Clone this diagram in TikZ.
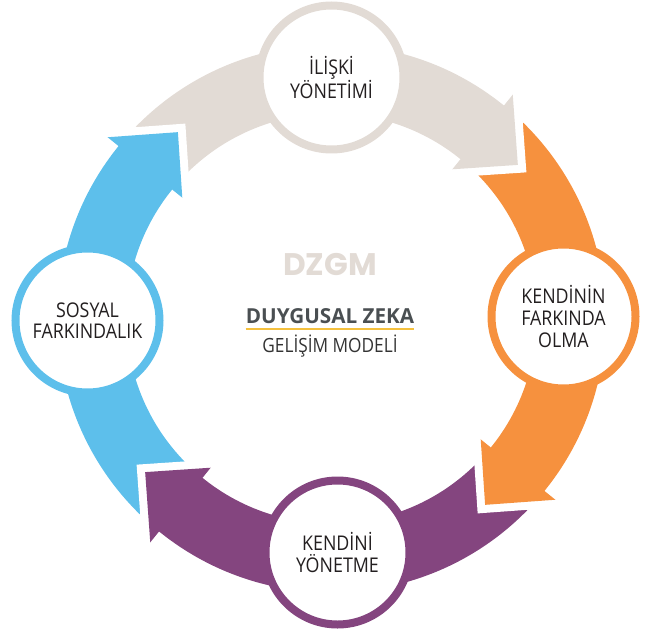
\documentclass[tikz,border=0pt]{standalone}
\usepackage{fontspec}
\setmainfont{Open Sans}
\newfontfamily\nodefont[FakeStretch=0.88]{Open Sans}
\newfontfamily\logofont{Poppins}
\usetikzlibrary{positioning}
\definecolor{dzgray}{HTML}{E2DBD5}
\definecolor{dzorange}{HTML}{F6913E}
\definecolor{dzpurple}{HTML}{84457F}
\definecolor{dzblue}{HTML}{5DBFEB}
\definecolor{dztext}{HTML}{231F20}
\definecolor{dztitle}{HTML}{4A4F52}
\definecolor{dzsub}{HTML}{333333}
\definecolor{dzyellow}{HTML}{F4C03E}

\begin{document}
\begin{tikzpicture}[
    x=0.75pt, y=0.75pt,
    stage/.style={circle, draw=#1, line width=6pt, fill=white, minimum size=108pt, inner sep=0pt, align=center, text=dztext, font=\nodefont\fontsize{15.2}{16.2}\selectfont},
    headgap/.style={white, line width=12pt, miter limit=6},
    underline/.style={dzyellow, line width=1.5pt}
]
\useasboundingbox (-331.5,-316.5) rectangle (323.5,318.5);

% Ring bands (each one starts and stops under an arrow head)
\foreach \col/\tail/\stop in {dzgray/139/49, dzorange/49/-41, dzpurple/-41/-131, dzblue/-131/-221}
    \fill[\col] (\tail:274) arc[start angle=\tail, end angle=\stop, radius=274] -- (\stop:205) arc[start angle=\stop, end angle=\tail, radius=205] -- cycle;

% Arrow heads
\foreach \col/\base/\apex in {dzgray/51/39.5, dzorange/-39/-50.5, dzpurple/-129/-140.5, dzblue/141/129.5} {
    \draw[headgap] (\base:192) -- (\apex:241.5) -- (\base:288);
    \fill[\col] (\base:192) -- (\apex:241.5) -- (\base:288) -- cycle;
}

% Nodes
\node[stage=dzgray] (relation) at (0,241) {İLİŞKİ\\YÖNETİMİ};
\node[stage=dzorange] (awareness) at (232,2) {KENDİNİN\\FARKINDA\\OLMA};
\node[stage=dzpurple] (selfmgmt) at (6,-234) {KENDİNİ\\YÖNETME};
\node[stage=dzblue] (social) at (-244,-2) {SOSYAL\\FARKINDALIK};

% Centre title
\node[anchor=base, text=dzgray, font=\logofont\bfseries\fontsize{23.4}{28}\selectfont] (logo) at (-1.5,43.5) {DZGM};
\node[anchor=base, inner sep=0pt, text=dztitle, font=\bfseries\fontsize{15.5}{18}\selectfont] (title) at (-1.5,-4.5) {DUYGUSAL ZEKA};
\draw[underline] ([yshift=-4.5pt]title.south west) -- ([yshift=-4.5pt]title.south east);
\node[anchor=base, text=dzsub, font=\nodefont\fontsize{14.7}{18}\selectfont] (subtitle) at (-1.5,-33.5) {GELİŞİM MODELİ};

\end{tikzpicture}
\end{document}
